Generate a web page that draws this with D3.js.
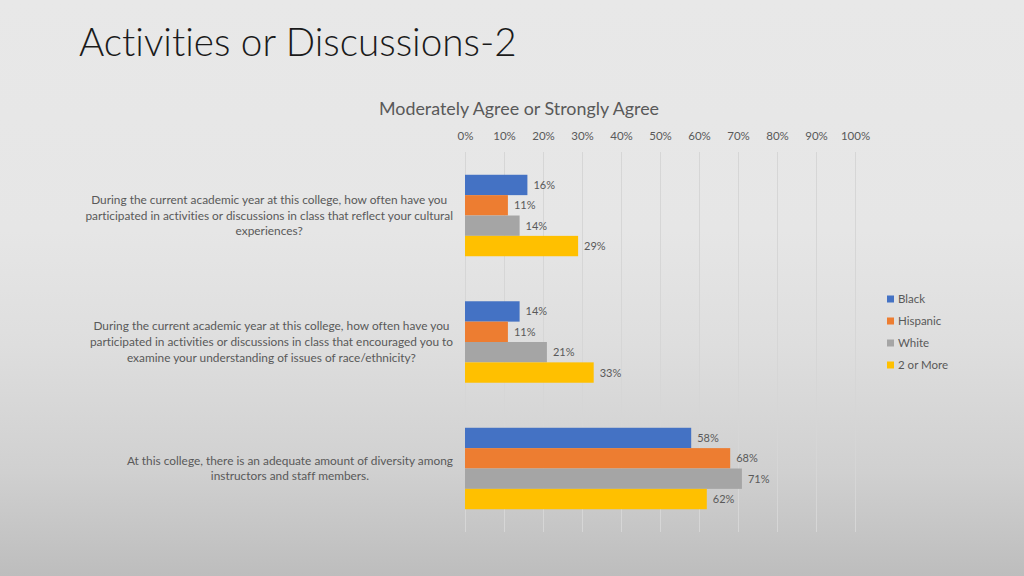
<!DOCTYPE html>
<html>
<head>
<meta charset="utf-8">
<script src="https://cdn.jsdelivr.net/npm/d3@7"></script>
<style>
  html, body { margin: 0; padding: 0; }
  body { width: 1024px; height: 576px; overflow: hidden; }
  svg { display: block; font-family: Lato, "Open Sans", sans-serif; font-variant-ligatures: none; font-feature-settings: "liga" 0, "clig" 0; }
  svg text { font-variant-ligatures: none; }
</style>
</head>
<body>
<svg id="chart" width="1024" height="576"></svg>
<script>
const titleText = "Activities or Discussions-2";
const chartTitle = "Moderately Agree or Strongly Agree";
const categories = ["Q1", "Q2", "Q3"];
const categoryLines = [
  ["During the current academic year at this college, how often have you",
   "participated in activities or discussions in class that reflect your cultural",
   "experiences?"],
  ["During the current academic year at this college, how often have you",
   "participated in activities or discussions in class that encouraged you to",
   "examine your understanding of issues of race/ethnicity?"],
  ["At this college, there is an adequate amount of diversity among",
   "instructors and staff members."]
];
const seriesNames = ["Black", "Hispanic", "White", "2 or More"];
const black    = [16, 14, 58];
const hispanic = [11, 11, 68];
const white    = [14, 21, 71];
const twoMore  = [29, 33, 62];
const tickValues = [0, 10, 20, 30, 40, 50, 60, 70, 80, 90, 100];
const colors = ["#4472C4", "#ED7D31", "#A5A5A5", "#FFC000"];

const seriesValues = [black, hispanic, white, twoMore];

const svg = d3.select("#chart");

// background gradient
const defs = svg.append("defs");
const grad = defs.append("linearGradient").attr("id", "bg")
  .attr("x1", 0).attr("y1", 0).attr("x2", 0).attr("y2", 1);
[[0, "#e8e8e8"], [0.4, "#e6e6e6"], [0.6, "#dedede"], [0.82, "#d0d0d0"], [1, "#bdbdbd"]]
  .forEach(([o, c]) => grad.append("stop").attr("offset", o).attr("stop-color", c));
svg.append("rect").attr("width", 1024).attr("height", 576).attr("fill", "url(#bg)");

function fitWidth(sel, target) {
  const fs = parseFloat(sel.attr("font-size"));
  const w = sel.node().getComputedTextLength();
  sel.attr("font-size", (fs * target / w).toFixed(2));
}

// title
const t = svg.append("text").attr("x", 79).attr("y", 56)
  .attr("font-size", 40).attr("font-weight", 300).attr("fill", "#1a1a1a")
  .text(titleText);
fitWidth(t, 438);

// chart title
const ct = svg.append("text").attr("x", 519).attr("y", 115)
  .attr("text-anchor", "middle").attr("font-size", 16).attr("fill", "#595959")
  .text(chartTitle);
fitWidth(ct, 280);

const x = d3.scaleLinear().domain([0, 100]).range([465, 855]);
const y = d3.scaleBand().domain(categories).range([152.25, 531.75])
  .paddingInner(0.356).paddingOuter(0.178);
const ySub = d3.scaleBand().domain(seriesNames).range([0, y.bandwidth()]);

// gridlines
svg.append("g").selectAll("line").data(tickValues).join("line")
  .attr("x1", d => x(d) + 0.5).attr("x2", d => x(d) + 0.5)
  .attr("y1", 152).attr("y2", 532)
  .attr("stroke", "#d6d6d6").attr("stroke-width", 1);

// top axis labels
const axis = d3.axisTop(x).tickValues(tickValues).tickFormat(d => d + "%").tickSize(0).tickPadding(0);
const ag = svg.append("g").attr("transform", "translate(0,140)").call(axis);
ag.select(".domain").remove();
ag.selectAll("text").attr("font-size", 11.5).attr("fill", "#595959")
  .attr("font-family", "Lato, 'Open Sans', sans-serif").attr("dy", 0);

// bars
const groups = svg.append("g").selectAll("g").data(categories).join("g")
  .attr("transform", d => `translate(0,${y(d)})`);
groups.each(function(cat, ci) {
  const g = d3.select(this);
  const rows = seriesNames.map((s, si) => ({ s, si, v: seriesValues[si][ci] }));
  g.selectAll("rect").data(rows).join("rect")
    .attr("x", x(0)).attr("y", d => ySub(d.s))
    .attr("width", d => x(d.v) - x(0)).attr("height", ySub.bandwidth())
    .attr("fill", d => colors[d.si]);
  g.selectAll("text.lbl").data(rows).join("text").attr("class", "lbl")
    .attr("x", d => x(d.v) + 6).attr("y", d => ySub(d.s) + ySub.bandwidth() / 2 + 4)
    .attr("font-size", 11).attr("fill", "#595959")
    .text(d => d.v + "%");
});

// category labels
const lineH = 15.7;
categories.forEach((cat, ci) => {
  const lines = categoryLines[ci];
  const cy = y(cat) + y.bandwidth() / 2;
  const g = svg.append("g").attr("class", "catlbl");
  g.selectAll("text").data(lines).join("text")
    .attr("text-anchor", "middle")
    .attr("y", (d, i) => cy + (i - (lines.length - 1) / 2) * lineH + 4)
    .attr("font-size", 11).attr("fill", "#595959")
    .text(d => d);
});
// scale category font to match reference widths (longest line ~368px)
{
  const allTexts = svg.selectAll("g.catlbl text");
  let maxW = 0;
  allTexts.each(function() { maxW = Math.max(maxW, this.getComputedTextLength()); });
  const fs = 11 * 368 / maxW;
  allTexts.attr("font-size", fs.toFixed(2));
  svg.selectAll("g.catlbl").each(function() {
    const g = d3.select(this);
    let w = 0;
    g.selectAll("text").each(function() { w = Math.max(w, this.getComputedTextLength()); });
    g.selectAll("text").attr("x", 453 - w / 2);
  });
}

// legend
const lg = svg.append("g").selectAll("g").data(seriesNames).join("g")
  .attr("transform", (d, i) => `translate(887,${299 + i * 22})`);
lg.append("rect").attr("x", 0).attr("y", -3.5).attr("width", 7).attr("height", 7)
  .attr("fill", (d, i) => colors[i]);
lg.append("text").attr("x", 11).attr("y", 4).attr("font-size", 11.5).attr("fill", "#595959")
  .text(d => d);
</script>
</body>
</html>
